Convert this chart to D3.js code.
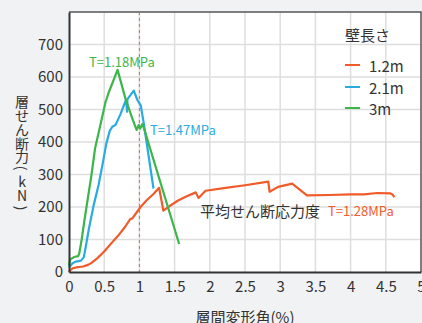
<!DOCTYPE html>
<html>
<head>
<meta charset="utf-8">
<script src="https://cdn.jsdelivr.net/npm/d3@7"></script>
<style>
  body { margin: 0; background: #f1f2f4; }
  svg { display: block; font-family: "Noto Sans CJK JP", "Noto Sans", sans-serif; }
</style>
</head>
<body>
<svg id="chart" width="422" height="323"></svg>
<script>
const xTicks = [0, 0.5, 1, 1.5, 2, 2.5, 3, 3.5, 4, 4.5, 5];
const yTicks = [0, 100, 200, 300, 400, 500, 600, 700];

const seriesNames = ["1.2m", "2.1m", "3m"];
const seriesColors = ["#f15a29", "#29abe2", "#3cb54a"];

const wall12 = [
  [0, 0], [0.02, 6], [0.05, 11], [0.1, 14], [0.2, 17], [0.27, 22], [0.32, 28],
  [0.4, 42], [0.5, 63], [0.6, 88], [0.7, 112], [0.8, 140], [0.87, 163], [0.9, 165],
  [0.95, 180], [1.02, 201], [1.1, 220], [1.2, 240], [1.28, 259], [1.34, 189],
  [1.43, 203], [1.55, 220], [1.65, 231], [1.8, 245], [1.84, 228], [1.94, 250],
  [2.2, 258], [2.5, 267], [2.83, 278], [2.85, 247], [2.97, 262], [3.17, 272],
  [3.38, 236], [3.7, 237], [4.0, 239], [4.19, 239], [4.38, 243], [4.56, 242],
  [4.6, 238], [4.62, 230]
];
const wall21 = [
  [0, 14], [0.05, 27], [0.1, 32], [0.17, 35], [0.21, 45], [0.24, 80], [0.28, 130],
  [0.35, 205], [0.42, 268], [0.48, 335], [0.53, 395], [0.58, 435], [0.62, 448],
  [0.66, 452], [0.73, 485], [0.81, 530], [0.825, 493], [0.83, 532], [0.92, 558],
  [0.97, 530], [1.02, 512], [1.06, 460], [1.2, 257]
];
const wall3 = [
  [0, 20], [0.015, 38], [0.07, 46], [0.13, 49], [0.145, 56], [0.18, 100],
  [0.22, 160], [0.27, 230], [0.32, 300], [0.37, 380], [0.44, 447], [0.52, 524],
  [0.53, 530], [0.56, 550], [0.69, 622], [0.8, 535], [0.9, 472], [0.96, 437],
  [0.99, 452], [1.01, 441], [1.04, 455], [1.065, 442], [1.565, 86]
];
const seriesData = [wall12, wall21, wall3];

const svg = d3.select("#chart");
const margin = { top: 12, right: 1, bottom: 51, left: 69 };
const width = 422, height = 323;
const innerWidth = width - margin.left - margin.right;
const innerHeight = height - margin.top - margin.bottom;

const x = d3.scaleLinear().domain([0, 5]).range([0, innerWidth]);
const y = d3.scaleLinear().domain([0, 800]).range([innerHeight, 0]);

const g = svg.append("g").attr("transform", `translate(${margin.left},${margin.top})`);

g.append("rect").attr("width", innerWidth).attr("height", innerHeight).attr("fill", "#fff");

// grid
g.append("g").selectAll("line").data(xTicks.slice(1, -1)).join("line")
  .attr("x1", d => x(d)).attr("x2", d => x(d)).attr("y1", 0).attr("y2", innerHeight)
  .attr("stroke", "#dedede").attr("stroke-width", 1.5);
g.append("g").selectAll("line").data(yTicks.slice(1)).join("line")
  .attr("x1", 0).attr("x2", innerWidth).attr("y1", d => y(d)).attr("y2", d => y(d))
  .attr("stroke", "#dedede").attr("stroke-width", 1.5);

// frame top/right
g.append("path")
  .attr("d", `M0,0H${innerWidth}V${innerHeight}`)
  .attr("fill", "none").attr("stroke", "#555").attr("stroke-width", 1.5);

// dashed line at 1%
g.append("line")
  .attr("x1", x(1)).attr("x2", x(1)).attr("y1", 0).attr("y2", innerHeight)
  .attr("stroke", "#f0643c").attr("stroke-width", 1).attr("stroke-dasharray", "3,3");

// series
const line = d3.line().x(d => x(d[0])).y(d => y(d[1]));
g.append("g").selectAll("path").data(seriesData).join("path")
  .attr("d", line)
  .attr("fill", "none")
  .attr("stroke", (d, i) => seriesColors[i])
  .attr("stroke-width", 2.2)
  .attr("stroke-linejoin", "round");

// axes
const axisX = d3.axisBottom(x).tickValues(xTicks).tickSize(0).tickPadding(6).tickFormat(d3.format("~g"));
const axisY = d3.axisLeft(y).tickValues(yTicks).tickSize(0).tickPadding(6);

const axisXGroup = g.append("g").attr("transform", `translate(0,${innerHeight})`).call(axisX);
const axisYGroup = g.append("g").call(axisY);
[axisXGroup, axisYGroup].forEach(a => {
  a.select(".domain").attr("stroke", "#333").attr("stroke-width", 2);
  a.selectAll("text").attr("font-size", 15).attr("fill", "#333").attr("font-family", "Noto Sans CJK JP");
});
axisXGroup.selectAll("text").attr("dy", "0.9em");

// axis titles
svg.append("text")
  .attr("x", 245).attr("y", 323)
  .attr("text-anchor", "middle").attr("font-size", 15).attr("fill", "#333")
  .text("層間変形角(%)");

const yLabelChars = ["層", "せ", "ん", "断", "力", "(", "k", "N", ")"];
const yLabelPos = [101, 115, 129, 143, 156, 168, 181, 195, 208];
const yLabelTurn = [0, 0, 0, 0, 0, 90, 0, 0, 90];
svg.append("g").selectAll("text").data(yLabelChars).join("text")
  .attr("transform", (d, i) => `translate(22,${yLabelPos[i]}) rotate(${yLabelTurn[i]})`)
  .attr("text-anchor", "middle").attr("dominant-baseline", "central")
  .attr("font-size", 14).attr("fill", "#333")
  .text(d => d);

// annotations
const notes = [
  { text: "T=1.18MPa", x: 89, y: 61, color: seriesColors[2], size: 13 },
  { text: "T=1.47MPa", x: 150, y: 129, color: seriesColors[1], size: 13 },
  { text: "平均せん断応力度", x: 200, y: 210, color: "#333", size: 15 },
  { text: "T=1.28MPa", x: 328, y: 210, color: seriesColors[0], size: 13 }
];
svg.append("g").selectAll("text").data(notes).join("text")
  .attr("x", d => d.x).attr("y", d => d.y)
  .attr("dominant-baseline", "central")
  .attr("font-size", d => d.size).attr("fill", d => d.color)
  .text(d => d.text);

// legend
const legend = svg.append("g");
legend.append("text").attr("x", 345).attr("y", 34).attr("dominant-baseline", "central")
  .attr("font-size", 15).attr("fill", "#333").text("壁長さ");
const legendY = [65, 87, 108];
legend.selectAll("line").data(seriesNames).join("line")
  .attr("x1", 345).attr("x2", 360).attr("y1", (d, i) => legendY[i]).attr("y2", (d, i) => legendY[i])
  .attr("stroke", (d, i) => seriesColors[i]).attr("stroke-width", 2);
legend.selectAll("text.item").data(seriesNames).join("text").attr("class", "item")
  .attr("x", 369).attr("y", (d, i) => legendY[i]).attr("dominant-baseline", "central")
  .attr("font-size", 15).attr("fill", "#333").text(d => d);
</script>
</body>
</html>
